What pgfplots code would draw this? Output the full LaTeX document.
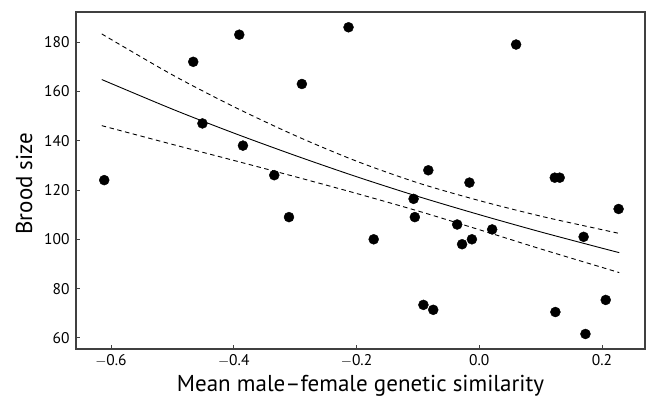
\documentclass[border=0pt]{standalone}
\usepackage{fontspec}
\setmainfont{PT Sans}
\usepackage{pgfplots}
\pgfplotsset{compat=1.18}
\begin{document}
\begin{tikzpicture}
\begin{axis}[
  name=ax,
  scale only axis,
  width=569pt, height=337pt,
  xmin=-0.657, xmax=0.270,
  ymin=55.5, ymax=192.2,
  xtick={-0.6,-0.4,-0.2,0,0.2},
  xticklabels={$-$0.6,$-$0.4,$-$0.2,0.0,0.2},
  ytick={60,80,100,120,140,160,180},
  tick align=inside,
  xtick pos=bottom, ytick pos=left,
  major tick length=4pt,
  axis line style={line width=1.1pt, black!75},
  tick style={line width=0.9pt, black!75},
  /pgf/number format/assume math mode=true,
  ticklabel style={font=\fontsize{15.5}{18}\selectfont},
  yticklabel style={xshift=-3pt},
  xticklabel style={yshift=-2pt},
  xlabel={Mean male–female genetic similarity},
  ylabel={Brood size},
  label style={font=\fontsize{23}{26}\selectfont},
  xlabel style={at={(axis description cs:0.5,0)}, anchor=base, yshift=-42.5pt},
  ylabel style={at={(axis description cs:0,0.5)}, anchor=center, yshift=52pt, xshift=-3pt},
]
\addplot[only marks, mark=*, mark size=5pt, black] coordinates {
(-0.611,124) (-0.466,172) (-0.391,183) (-0.451,147) (-0.385,138)
(-0.289,163) (-0.334,126) (-0.310,109) (-0.213,186) (0.060,179)
(-0.083,128) (-0.016,123) (0.123,125) (0.131,125) (-0.107,116.4)
(-0.105,109) (-0.036,106) (-0.028,98) (-0.012,100) (0.021,104)
(-0.172,100) (0.227,112.3) (0.170,101) (-0.091,73.4) (-0.075,71.4)
(0.124,70.5) (0.206,75.4) (0.173,61.6)
};
\addplot[smooth, line width=0.9pt, black] coordinates {
(-0.615,164.8) (-0.5,152.8) (-0.4,143.1) (-0.3,134.0) (-0.2,125.4)
(-0.1,117.4) (0,110.0) (0.1,103.0) (0.2,96.4) (0.228,94.6)
};
\addplot[smooth, line width=0.9pt, black, dash pattern=on 4.5pt off 3.5pt] coordinates {
(-0.615,183.3) (-0.5,166.7) (-0.4,153.8) (-0.3,142.1) (-0.2,131.7)
(-0.1,122.9) (0,115.7) (0.1,109.4) (0.2,103.9) (0.228,102.4)
};
\addplot[smooth, line width=0.9pt, black, dash pattern=on 4.5pt off 3.5pt] coordinates {
(-0.615,146.1) (-0.5,138.5) (-0.4,132.0) (-0.3,125.4) (-0.2,118.6)
(-0.1,111.5) (0,103.9) (0.1,96.1) (0.2,88.6) (0.228,86.5)
};
\end{axis}
\pgfresetboundingbox
\path (ax.south west) ++(-76pt,-48pt) rectangle (ax.north east) ++(1pt,12pt);
\end{tikzpicture}
\end{document}
